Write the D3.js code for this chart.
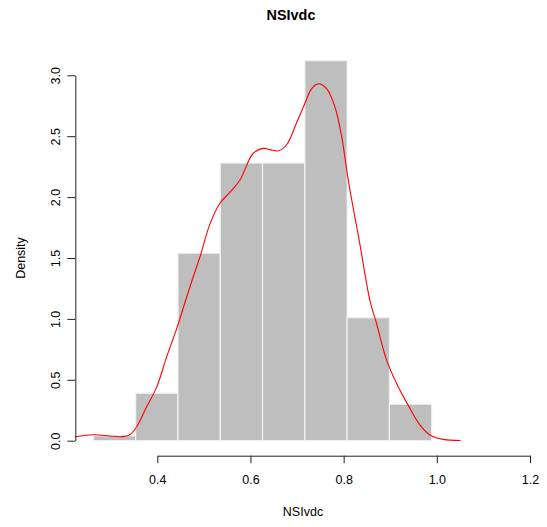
<!DOCTYPE html>
<html>
<head>
<meta charset="utf-8">
<script src="https://cdn.jsdelivr.net/npm/d3@7/dist/d3.min.js"></script>
<style>
  html, body { margin: 0; padding: 0; background: #fff; }
  svg { display: block; font-family: "Liberation Sans", Arial, Helvetica, sans-serif; }
</style>
</head>
<body>
<svg id="chart" width="547" height="527"></svg>
<script>
// ---- data ----
const binEdges = [0.2627, 0.3535, 0.4443, 0.5351, 0.6259, 0.7167, 0.8075, 0.8983, 0.9891];
const binDensity = [0.04, 0.39, 1.54, 2.28, 2.28, 3.12, 1.01, 0.30];
const densX = [0.224, 0.263, 0.2985, 0.322, 0.341, 0.3558, 0.3773, 0.3987, 0.4202, 0.4416,
               0.4631, 0.4845, 0.4917, 0.5131, 0.5345, 0.556, 0.5775, 0.606, 0.6275, 0.6418,
               0.6597, 0.6776, 0.699, 0.7169, 0.7313, 0.7455, 0.7635, 0.7813, 0.7956, 0.8099,
               0.835, 0.8565, 0.8708, 0.8923, 0.9137, 0.9386, 0.9637, 0.9852, 1.0137, 1.051];
const densY = [0.033, 0.049, 0.039, 0.033, 0.049, 0.115, 0.28, 0.44, 0.69, 0.92,
               1.18, 1.43, 1.51, 1.78, 1.95, 2.04, 2.14, 2.36, 2.40, 2.39,
               2.38, 2.43, 2.61, 2.77, 2.89, 2.93, 2.89, 2.74, 2.50, 2.14,
               1.61, 1.15, 0.96, 0.66, 0.47, 0.29, 0.13, 0.047, 0.011, 0.002];
const xTicks = [0.4, 0.6, 0.8, 1.0, 1.2];
const yTicks = [0.0, 0.5, 1.0, 1.5, 2.0, 2.5, 3.0];
const titleText = "NSIvdc";
const xLabel = "NSIvdc";
const yLabel = "Density";

// ---- layout ----
const svg = d3.select("#chart");
const plotLeft = 75.3, plotRight = 530, axisY = 455.7;
const x = d3.scaleLinear().domain([0.4, 1.2]).range([157.3, 530]);
const y = d3.scaleLinear().domain([0, 3]).range([440.7, 75.3]);

// bars
const bins = binDensity.map((d, i) => ({x0: binEdges[i], x1: binEdges[i + 1], d}));
svg.append("g").selectAll("rect").data(bins).join("rect")
  .attr("x", b => x(b.x0))
  .attr("y", b => y(b.d))
  .attr("width", b => x(b.x1) - x(b.x0))
  .attr("height", b => y(0) - y(b.d))
  .attr("fill", "#bebebe")
  .attr("stroke", "#f2f2f2")
  .attr("stroke-width", 1.2);

// density line
const pts = densX.map((v, i) => [v, densY[i]]);
svg.append("path")
  .datum(pts)
  .attr("fill", "none")
  .attr("stroke", "#ff0000")
  .attr("stroke-width", 1.1)
  .attr("d", d3.line().x(p => x(p[0])).y(p => y(p[1])).curve(d3.curveCatmullRom.alpha(0.5)));

// x axis
const gx = svg.append("g").attr("transform", `translate(0,${axisY})`)
  .call(d3.axisBottom(x).tickValues(xTicks).tickSize(7.5).tickSizeOuter(0)
        .tickFormat(d3.format(".1f")).tickPadding(12));
gx.selectAll("text").attr("font-size", 12.5).attr("fill", "#000").style("font-family", "Liberation Sans, Arial, sans-serif");
gx.selectAll("line, path").attr("stroke", "#222");

// y axis
const gy = svg.append("g").attr("transform", `translate(${plotLeft},0)`)
  .call(d3.axisLeft(y).tickValues(yTicks).tickSize(8).tickSizeOuter(0)
        .tickFormat(d3.format(".1f")));
gy.selectAll("text")
  .attr("transform", "rotate(-90)")
  .attr("text-anchor", "middle")
  .attr("x", 0).attr("dy", 0)
  .attr("y", -15)
  .attr("font-size", 12.5).attr("fill", "#000")
  .style("font-family", "Liberation Sans, Arial, sans-serif");
gy.selectAll("line, path").attr("stroke", "#222");

// title & labels
svg.append("text").attr("x", 291).attr("y", 19.5)
  .attr("text-anchor", "middle").attr("font-weight", "bold").attr("font-size", 14.4)
  .text(titleText);
svg.append("text").attr("x", 303).attr("y", 516)
  .attr("text-anchor", "middle").attr("font-size", 12.5).text(xLabel);
svg.append("text").attr("transform", "translate(25,258) rotate(-90)")
  .attr("text-anchor", "middle").attr("font-size", 12.5).text(yLabel);
</script>
</body>
</html>
